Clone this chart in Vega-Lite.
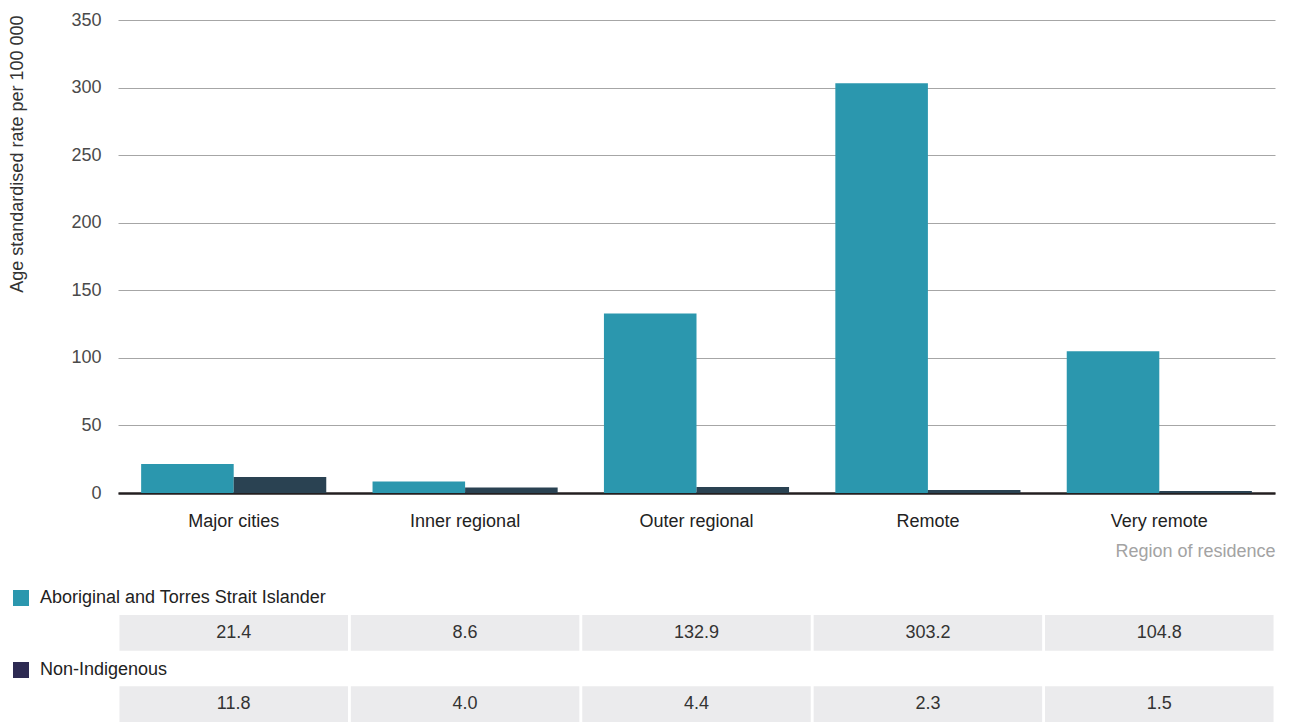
{
  "$schema": "https://vega.github.io/schema/vega-lite/v6.json",
  "autosize": {"type": "pad"},
  "padding": {"left": 8, "top": 11, "right": 14, "bottom": 0},
  "background": "#ffffff",
  "config": {
    "font": "Liberation Sans",
    "view": {"stroke": null},
    "axis": {"labelFont": "Liberation Sans", "titleFont": "Liberation Sans"},
    "legend": {"labelFont": "Liberation Sans"}
  },
  "datasets": {
    "rates": [
      {"region": "Major cities", "group": "Aboriginal and Torres Strait Islander", "rate": 21.4},
      {"region": "Inner regional", "group": "Aboriginal and Torres Strait Islander", "rate": 8.6},
      {"region": "Outer regional", "group": "Aboriginal and Torres Strait Islander", "rate": 132.9},
      {"region": "Remote", "group": "Aboriginal and Torres Strait Islander", "rate": 303.2},
      {"region": "Very remote", "group": "Aboriginal and Torres Strait Islander", "rate": 104.8},
      {"region": "Major cities", "group": "Non-Indigenous", "rate": 11.8},
      {"region": "Inner regional", "group": "Non-Indigenous", "rate": 4.0},
      {"region": "Outer regional", "group": "Non-Indigenous", "rate": 4.4},
      {"region": "Remote", "group": "Non-Indigenous", "rate": 2.3},
      {"region": "Very remote", "group": "Non-Indigenous", "rate": 1.5}
    ]
  },
  "bounds": "flush",
  "spacing": 122,
  "resolve": {"scale": {"color": "independent"}, "legend": {"color": "independent"}},
  "vconcat": [
    {
      "width": 1157,
      "height": 473,
      "data": {"name": "rates"},
      "mark": {"type": "bar"},
      "encoding": {
        "x": {
          "field": "region",
          "type": "nominal",
          "sort": ["Major cities", "Inner regional", "Outer regional", "Remote", "Very remote"],
          "scale": {"paddingInner": 0.2, "paddingOuter": 0.1},
          "axis": {
            "title": "Region of residence",
            "titleFontSize": 18,
            "titleFontWeight": "normal",
            "titleColor": "#a3a3a3",
            "titleAnchor": "end",
            "titlePadding": 12,
            "labelFontSize": 18,
            "labelColor": "#222222",
            "labelAngle": 0,
            "labelPadding": 19,
            "ticks": false,
            "tickSize": 0,
            "domainColor": "#231f20",
            "domainWidth": 2.5,
            "grid": false
          }
        },
        "xOffset": {
          "field": "group",
          "type": "nominal",
          "sort": ["Aboriginal and Torres Strait Islander", "Non-Indigenous"],
          "scale": {"paddingInner": 0, "paddingOuter": 0}
        },
        "y": {
          "field": "rate",
          "type": "quantitative",
          "scale": {"domain": [0, 350], "nice": false},
          "axis": {
            "title": "Age standardised rate per 100 000",
            "titleFontSize": 18,
            "titleFontWeight": "normal",
            "titleColor": "#333333",
            "titleAnchor": "end",
            "titleY": -5,
            "titlePadding": 44,
            "values": [0, 50, 100, 150, 200, 250, 300, 350],
            "labelFontSize": 18,
            "labelColor": "#4a4a4a",
            "labelPadding": 17,
            "ticks": false,
            "tickSize": 0,
            "domain": false,
            "grid": true,
            "gridColor": "#a6a6a6",
            "gridWidth": 1
          }
        },
        "color": {
          "field": "group",
          "type": "nominal",
          "scale": {
            "domain": ["Aboriginal and Torres Strait Islander", "Non-Indigenous"],
            "range": ["#2b97ae", "#2a4252"]
          },
          "legend": null
        }
      }
    },
    {
      "width": 1157,
      "height": 107,
      "data": {"name": "rates"},
      "encoding": {
        "x": {
          "field": "region",
          "type": "nominal",
          "sort": ["Major cities", "Inner regional", "Outer regional", "Remote", "Very remote"],
          "scale": {"paddingInner": 0.0125, "paddingOuter": 0.00625},
          "axis": null
        },
        "y": {
          "field": "group",
          "type": "nominal",
          "sort": ["Aboriginal and Torres Strait Islander", "Non-Indigenous"],
          "scale": {"paddingInner": 0.5, "paddingOuter": 0},
          "axis": null
        }
      },
      "layer": [
        {"mark": {"type": "rect", "color": "#ebebed"}},
        {
          "mark": {"type": "point", "shape": "square", "filled": true, "opacity": 0, "size": 256},
          "encoding": {
            "color": {
              "field": "group",
              "type": "nominal",
              "scale": {
                "domain": ["Aboriginal and Torres Strait Islander", "Non-Indigenous"],
                "range": ["#2b97ae", "#2d2a52"]
              },
              "legend": {
                "orient": "none",
                "legendX": -106,
                "legendY": -26,
                "title": null,
                "direction": "vertical",
                "symbolType": "square",
                "symbolSize": 256,
                "symbolOpacity": 1,
                "symbolStrokeWidth": 0,
                "labelFontSize": 18,
                "labelColor": "#222222",
                "labelOffset": 10,
                "labelLimit": 500,
                "rowPadding": 54,
                "padding": 0
              }
            }
          }
        },
        {
          "mark": {"type": "text", "fontSize": 18, "color": "#333333"},
          "encoding": {"text": {"field": "rate", "type": "quantitative", "format": ".1f"}}
        }
      ]
    }
  ]
}
